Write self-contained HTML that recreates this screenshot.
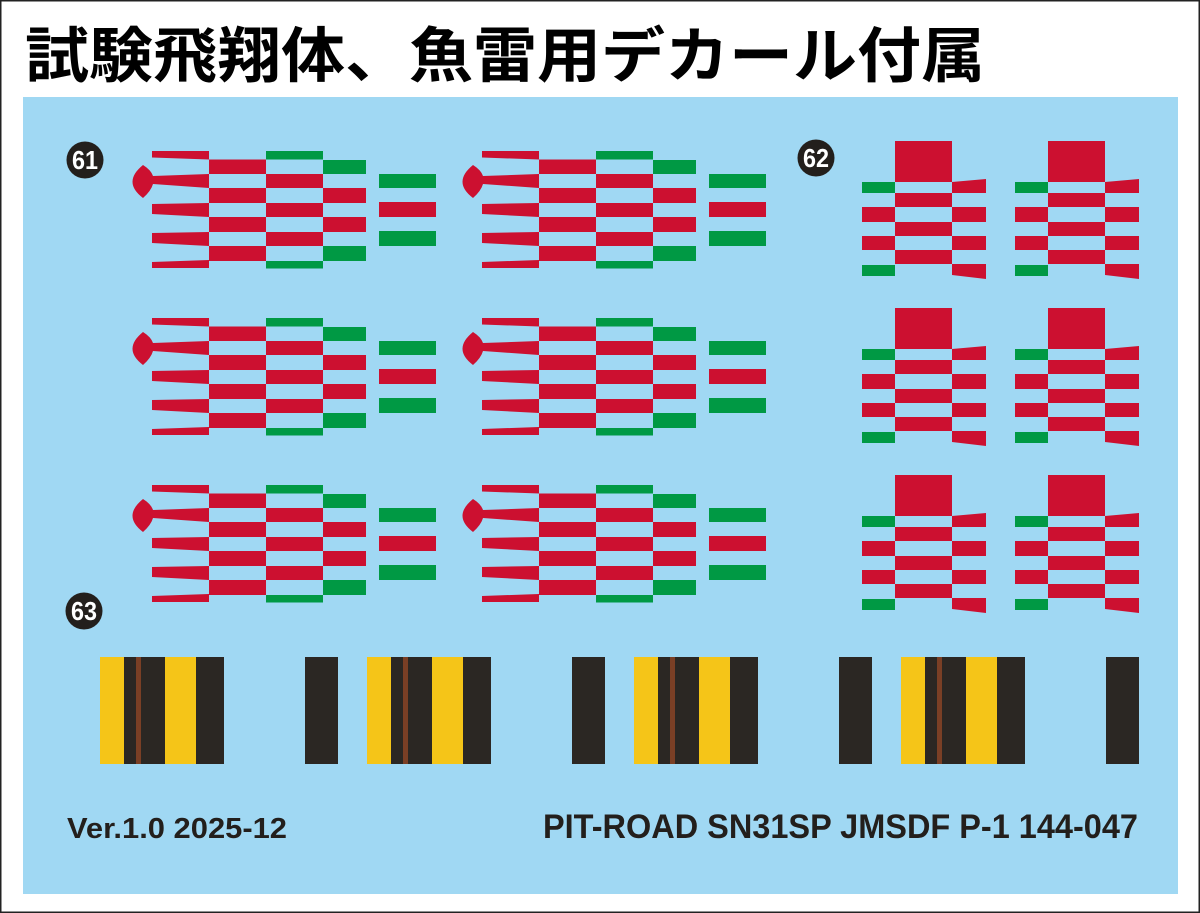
<!DOCTYPE html>
<html><head><meta charset="utf-8"><style>
html,body{margin:0;padding:0;background:#fff;}
svg{display:block;}
</style></head><body>
<svg width="1200" height="913" viewBox="0 0 1200 913" xmlns="http://www.w3.org/2000/svg">
<defs>
<g id="d61">
  <g fill="#cc1030">
    <polygon points="152,151 209,151 209,159.5 152,157.5"/>
    <path d="M143,165 Q151,170 153,176 L209,174 L209,188 L153,184 Q151,191 143,198 Q122,182 143,165Z"/>
    <polygon points="152,204 209,203 209,217 152,214"/>
    <polygon points="152,233 209,232 209,246 152,243"/>
    <polygon points="152,262 209,260 209,268 152,268"/>
    <rect x="209" y="159.5" width="57" height="14.5"/>
    <rect x="209" y="188" width="57" height="15"/>
    <rect x="209" y="217" width="57" height="15"/>
    <rect x="209" y="246" width="57" height="15"/>
    <rect x="266" y="174" width="57" height="14"/>
    <rect x="266" y="203" width="57" height="14"/>
    <rect x="266" y="232" width="57" height="14"/>
    <rect x="323" y="188" width="43" height="15"/>
    <rect x="323" y="217" width="43" height="15"/>
    <rect x="379" y="202" width="57" height="15"/>
  </g>
  <g fill="#009944">
    <rect x="266" y="151" width="57" height="8.5"/>
    <rect x="266" y="261" width="57" height="7.5"/>
    <rect x="323" y="160" width="43" height="14"/>
    <rect x="323" y="246" width="43" height="15"/>
    <rect x="379" y="174" width="57" height="14"/>
    <rect x="379" y="231" width="57" height="15"/>
  </g>
</g>
<g id="d62">
  <g fill="#cc1030">
    <rect x="895" y="141" width="57" height="41"/>
    <polygon points="952,182 986,179 986,193 952,193"/>
    <rect x="895" y="193" width="57" height="14"/>
    <rect x="862" y="207" width="33" height="15"/>
    <rect x="952" y="207" width="34" height="15"/>
    <rect x="895" y="222" width="57" height="14"/>
    <rect x="862" y="236" width="33" height="14"/>
    <rect x="952" y="236" width="34" height="14"/>
    <rect x="895" y="250" width="57" height="14"/>
    <polygon points="952,264 986,264 986,279 952,275"/>
  </g>
  <g fill="#009944">
    <rect x="862" y="182" width="33" height="11"/>
    <rect x="862" y="265" width="33" height="11"/>
  </g>
</g>
<g id="d63">
  <rect x="100" y="657" width="24" height="107" fill="#f5c518"/>
  <rect x="124" y="657" width="41" height="107" fill="#2b2723"/>
  <rect x="136" y="657" width="5" height="107" fill="#7a3f25"/>
  <rect x="165" y="657" width="31" height="107" fill="#f5c518"/>
  <rect x="196" y="657" width="28" height="107" fill="#2b2723"/>
  <rect x="305" y="657" width="33" height="107" fill="#2b2723"/>
</g>
</defs>
<rect x="0.5" y="0.5" width="1199" height="912" fill="#fff" stroke="#222" stroke-width="2"/>
<rect x="23" y="97" width="1155" height="797" fill="#a0d8f3"/>
<text x="25" y="77" font-family="'Noto Sans CJK JP', sans-serif" font-weight="bold" font-size="60" textLength="960" lengthAdjust="spacingAndGlyphs" fill="#000">試験飛翔体、魚雷用デカール付属</text>

<use href="#d61"/>
<use href="#d61" x="330"/>
<use href="#d61" y="167"/>
<use href="#d61" x="330" y="167"/>
<use href="#d61" y="334"/>
<use href="#d61" x="330" y="334"/>

<use href="#d62"/>
<use href="#d62" x="153"/>
<use href="#d62" y="167"/>
<use href="#d62" x="153" y="167"/>
<use href="#d62" y="334"/>
<use href="#d62" x="153" y="334"/>

<use href="#d63"/>
<use href="#d63" x="267"/>
<use href="#d63" x="534"/>
<use href="#d63" x="801"/>

<g font-family="'Liberation Sans Narrow','Liberation Sans',sans-serif" font-weight="bold" fill="#fff" text-anchor="middle" font-size="26">
  <circle cx="85" cy="160" r="18.5" fill="#231f1c"/>
  <text x="85" y="169" textLength="26" lengthAdjust="spacingAndGlyphs">61</text>
  <circle cx="816" cy="158" r="18.5" fill="#231f1c"/>
  <text x="816" y="167" textLength="26" lengthAdjust="spacingAndGlyphs">62</text>
  <circle cx="84" cy="611" r="18.5" fill="#231f1c"/>
  <text x="84" y="620" textLength="26" lengthAdjust="spacingAndGlyphs">63</text>
</g>
<g font-family="'Liberation Sans',sans-serif" font-weight="bold" fill="#231f1c">
  <text x="67" y="838" font-size="29" textLength="220" lengthAdjust="spacingAndGlyphs">Ver.1.0 2025-12</text>
  <text x="543" y="838" font-size="34" textLength="595" lengthAdjust="spacingAndGlyphs">PIT-ROAD SN31SP JMSDF P-1 144-047</text>
</g>
</svg>
</body></html>
